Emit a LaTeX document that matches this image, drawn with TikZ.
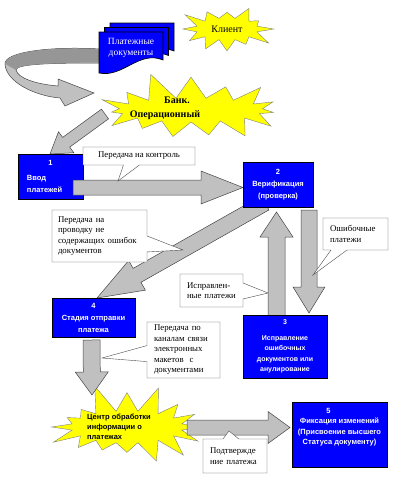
\documentclass[tikz,border=0pt]{standalone}
\usepackage{fontspec}
\setmainfont{Liberation Serif}
\setsansfont{Liberation Sans}
\usepackage{tikz}
\usetikzlibrary{shapes.symbols,shapes.callouts,calc}
\definecolor{boxblue}{RGB}{0,0,255}
\definecolor{staryellow}{RGB}{255,255,0}
\definecolor{arrowgray}{RGB}{192,192,192}
\definecolor{arrowdark}{RGB}{150,150,150}
\definecolor{arrowedge}{RGB}{70,70,70}

\tikzset{
  docsheet/.style={draw=black, fill=boxblue, line width=0.6pt},
  stepbox/.style={draw=black, fill=boxblue, text=white, inner sep=0pt, align=center,
    font=\sffamily\bfseries\fontsize{7.5}{12}\selectfont},
  burst/.style={starburst, draw=black!50, fill=staryellow, inner sep=0pt},
  note/.style={rectangle callout, draw=black!70, fill=white, inner sep=0pt, align=left,
    callout pointer width=16pt, font=\fontsize{8.8}{10.5}\selectfont},
  blockarr/.style={draw=arrowedge, fill=arrowgray, line width=0.5pt}
}

% fat arrow: from, to, shaft half width, head half width, head length
\newcommand{\blockarrow}[5]{%
  \path ($(#2)!#5!(#1)$) coordinate (hb);
  \draw[blockarr] ($(#1)!#3!90:(#2)$) -- ($(hb)!#3!90:(#2)$) -- ($(hb)!#4!90:(#2)$) -- (#2)
    -- ($(hb)!#4!-90:(#2)$) -- ($(hb)!#3!-90:(#2)$) -- ($(#1)!#3!-90:(#2)$) -- cycle;
}

\begin{document}
\begin{tikzpicture}[x=1pt, y=-1pt]
  \path[fill=white] (0,0) rectangle (400,490);
  \useasboundingbox (0,0) rectangle (400,490);

  % Arrow ends
  \coordinate (bankout) at (105,114);
  \coordinate (box1in) at (50,154);
  \coordinate (box1out) at (73,187.5);
  \coordinate (box2in) at (243,187.5);
  \coordinate (box2down) at (265,203);
  \coordinate (box4in) at (97,298);
  \coordinate (box3up) at (276.5,320);
  \coordinate (box2up) at (276.5,212);
  \coordinate (box2err) at (309,210);
  \coordinate (box3in) at (309,313);
  \coordinate (box4out) at (91.5,340);
  \coordinate (hubin) at (92,395);
  \coordinate (hubout) at (187,427.5);
  \coordinate (box5in) at (290,427.5);

  % Curved arrow from the documents
  \draw[blockarr] (100,49) .. controls (50,46) and (4,52) .. (5,64)
    .. controls (6,82) and (35,96) .. (60,98) -- (65,106) -- (94,93) -- (58,79) -- (58,86)
    .. controls (35,84) and (18,78) .. (16,70) .. controls (16,64) and (50,63) .. (100,63) -- cycle;
  \fill[arrowdark] (100,49.5) .. controls (50,46.5) and (4.5,52) .. (5.5,64)
    -- (16,70) .. controls (16,64) and (50,63) .. (100,62.5) -- cycle;

  % Payment documents
  \foreach \dx/\dy in {11/-9, 5.5/-4.5, 0/0} {
    \pgfmathsetmacro\sx{99+\dx}
    \pgfmathsetmacro\sy{32+\dy}
    \draw[docsheet] (\sx,\sy) -- (\sx+64,\sy) -- (\sx+64,\sy+28)
      .. controls (\sx+40,\sy+18) and (\sx+24,\sy+46) .. (\sx,\sy+41) -- cycle;
  }
  \node[text=white, align=center, font=\fontsize{9.5}{11.5}\selectfont] (docs) at (131,48) {Платежные\\документы};

  % Stars
  \node[burst, minimum width=98pt, minimum height=58pt, starburst points=12,
    starburst point height=18pt, random starburst=3, font=\fontsize{10}{12}\selectfont] (client) at (227,29) {Клиент};
  \node[burst, minimum width=200pt, minimum height=80pt, starburst points=15,
    starburst point height=28pt, random starburst=11] (bank) at (191,110) {};
  \node[font=\bfseries\fontsize{10}{14}\selectfont, align=center] (banktext) at (165,108) {\hspace*{24pt}Банк.\\Операционный};

  \blockarrow{bankout}{box1in}{6pt}{13pt}{20pt}

  % Verification loop
  \blockarrow{box2down}{box4in}{8pt}{17pt}{46pt}
  \blockarrow{box3up}{box2up}{8.5pt}{16.5pt}{25pt}
  \blockarrow{box2err}{box3in}{8pt}{16pt}{26pt}

  \node[stepbox, minimum width=65pt, minimum height=45pt, text width=47pt, align=left] (box1) at (50.5,176.5)
    {\makebox[47pt]{1}\\[3pt]Ввод\\платежей};
  \blockarrow{box1out}{box2in}{7.5pt}{16.5pt}{42pt}
  \node[stepbox, minimum width=70pt, minimum height=45pt] (box2) at (278,184.5) {2\\Верификация\\(проверка)};

  \node[note, minimum width=112pt, minimum height=18pt, align=center,
    callout absolute pointer={(118,181)}] (ctrl) at (139,156) {Передача на контроль};

  % Center star
  \node[burst, minimum width=172pt, minimum height=92pt, starburst points=16,
    starburst point height=30pt, random starburst=5] (hub) at (127,427) {};
  \node[font=\sffamily\bfseries\fontsize{7.5}{10}\selectfont, align=left] (hubtext) at (119,427)
    {Центр обработки\\информации о\\платежах};
  \blockarrow{box4out}{hubin}{8.5pt}{16.5pt}{23pt}

  \node[stepbox, minimum width=84pt, minimum height=63pt, font=\sffamily\bfseries\fontsize{7}{10.5}\selectfont] (box3) at (285,346.5)
    {3\\[5pt]Исправление\\ошибочных\\документов или\\анулирование};
  \node[stepbox, minimum width=83pt, minimum height=39pt] (box4) at (93.5,317.5) {4\\Стадия отправки\\платежа};

  \node[note, minimum width=95pt, minimum height=52pt, text width=83pt,
    callout absolute pointer={(183,250)}] (clean) at (99.5,236) {Передача на\\проводку не\\содержащих ошибок\\документов};
  \node[note, minimum width=65pt, minimum height=32pt, text width=51pt,
    callout absolute pointer={(313,275)}] (errs) at (355.5,234) {Ошибочные\\платежи};
  \node[note, minimum width=63pt, minimum height=33pt, text width=49pt,
    callout absolute pointer={(268,293)}] (fixed) at (211.5,290.5) {Исправлен-\\ные платежи};

  % Confirmation
  \blockarrow{hubout}{box5in}{7.5pt}{16pt}{22pt}
  \node[note, minimum width=64pt, minimum height=34pt, text width=50pt,
    callout absolute pointer={(229,431)}] (conf) at (235,456) {Подтвержде\\ние платежа};
  \node[stepbox, minimum width=95pt, minimum height=65pt, text depth=16pt,
    font=\sffamily\bfseries\fontsize{7.5}{10.5}\selectfont] (box5) at (339.5,434.5)
    {5\hspace*{22pt}\\Фиксация изменений\\(Присвоение высшего\\Статуса документу)};
  \node[note, minimum width=73pt, minimum height=56pt, text width=59pt,
    callout absolute pointer={(102,358)}] (chan) at (183.5,350)
    {Передача по\\каналам связи\\электронных\\макетов\ \ с\\документами};
\end{tikzpicture}
\end{document}
